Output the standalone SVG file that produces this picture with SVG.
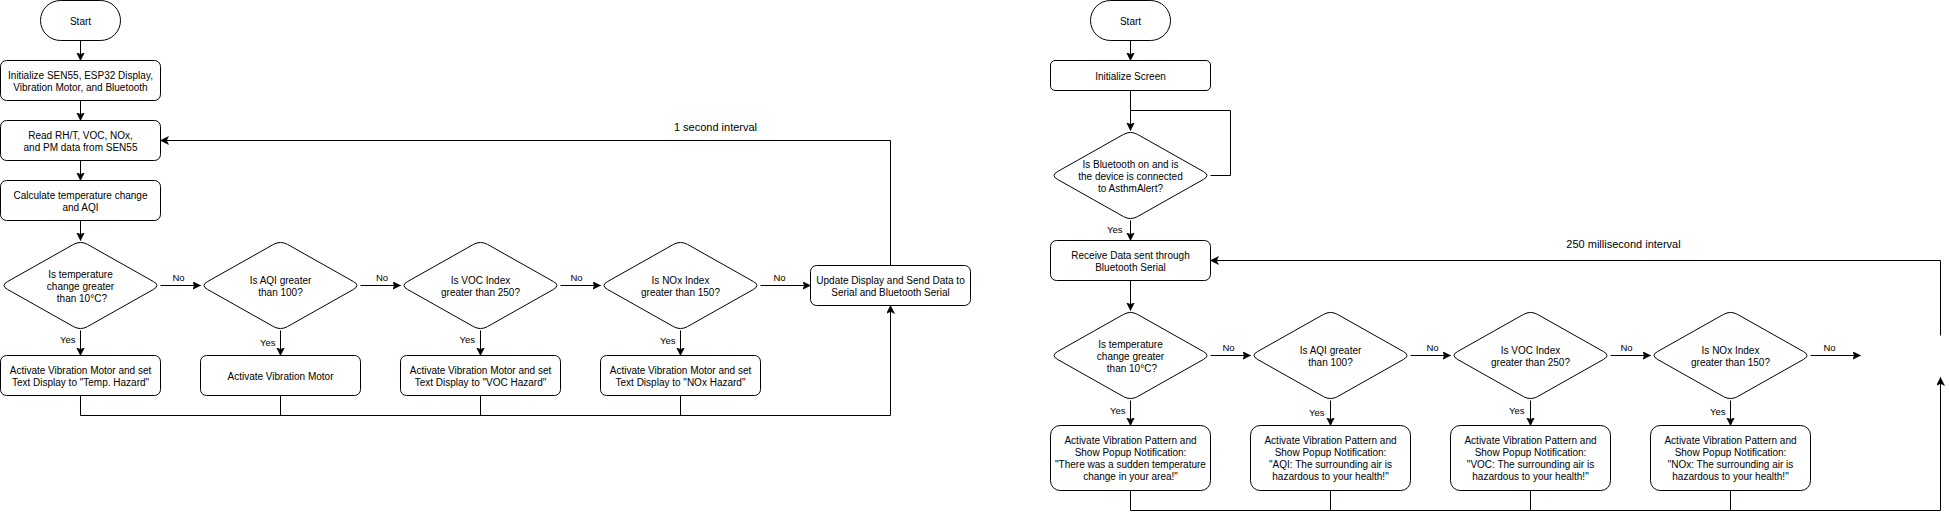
<svg xmlns="http://www.w3.org/2000/svg" xmlns:xlink="http://www.w3.org/1999/xlink" width="1949" height="519" viewBox="0 0 1949 519">
<style>
.shape{fill:#fff;stroke:#000;stroke-width:1}
.edge{fill:none;stroke:#000;stroke-width:1}
.t{font-family:"Liberation Sans",Arial,Helvetica,sans-serif;font-size:10px;fill:#000;text-anchor:middle}
.lbl{font-family:"Liberation Sans",Arial,Helvetica,sans-serif;font-size:9.5px;fill:#000}
.big{font-family:"Liberation Sans",Arial,Helvetica,sans-serif;font-size:11px;fill:#000;text-anchor:middle}
</style>
<defs>
<marker id="arr" markerUnits="userSpaceOnUse" markerWidth="10" markerHeight="10" refX="8" refY="4" orient="auto">
<path d="M0,0 L8,4 L0,8 L2,4 Z" fill="#000" stroke="#000" stroke-width="0.5"/>
</marker>
<path id="dia" d="M87,3.9 L153,41.1 Q160,45 153,48.9 L87,86.1 Q80,90 73,86.1 L7,48.9 Q0,45 7,41.1 L73,3.9 Q80,0 87,3.9 Z"/>
</defs>
<rect width="1949" height="519" fill="#fff"/>
<g transform="translate(0.5,0.5)">
<g id="connectors">
<path class="edge" d="M80,40 V60" marker-end="url(#arr)"/>
<path class="edge" d="M80,100 V120" marker-end="url(#arr)"/>
<path class="edge" d="M80,160 V180" marker-end="url(#arr)"/>
<path class="edge" d="M80,220 V240" marker-end="url(#arr)"/>
<path class="edge" d="M160,285 H200" marker-end="url(#arr)"/>
<path class="edge" d="M360,285 H400" marker-end="url(#arr)"/>
<path class="edge" d="M560,285 H600" marker-end="url(#arr)"/>
<path class="edge" d="M760,285 H810" marker-end="url(#arr)"/>
<path class="edge" d="M80,330 V355" marker-end="url(#arr)"/>
<path class="edge" d="M280,330 V355" marker-end="url(#arr)"/>
<path class="edge" d="M480,330 V355" marker-end="url(#arr)"/>
<path class="edge" d="M680,330 V355" marker-end="url(#arr)"/>
<path class="edge" d="M80,395 V415 H890 V305" marker-end="url(#arr)"/>
<path class="edge" d="M280,395 V415"/>
<path class="edge" d="M480,395 V415"/>
<path class="edge" d="M680,395 V415"/>
<path class="edge" d="M890,265 V140 H160" marker-end="url(#arr)"/>

<path class="edge" d="M1130,40 V60" marker-end="url(#arr)"/>
<path class="edge" d="M1130,90 V130" marker-end="url(#arr)"/>
<path class="edge" d="M1210,175 H1230 V110 H1130"/>
<path class="edge" d="M1130,220 V240" marker-end="url(#arr)"/>
<path class="edge" d="M1130,280 V310" marker-end="url(#arr)"/>
<path class="edge" d="M1210,355 H1250" marker-end="url(#arr)"/>
<path class="edge" d="M1410,355 H1450" marker-end="url(#arr)"/>
<path class="edge" d="M1610,355 H1650" marker-end="url(#arr)"/>
<path class="edge" d="M1810,355 H1860" marker-end="url(#arr)"/>
<path class="edge" d="M1130,400 V425" marker-end="url(#arr)"/>
<path class="edge" d="M1330,400 V425" marker-end="url(#arr)"/>
<path class="edge" d="M1530,400 V425" marker-end="url(#arr)"/>
<path class="edge" d="M1730,400 V425" marker-end="url(#arr)"/>
<path class="edge" d="M1130,490 V510 H1940 V377" marker-end="url(#arr)"/>
<path class="edge" d="M1330,490 V510"/>
<path class="edge" d="M1530,490 V510"/>
<path class="edge" d="M1730,490 V510"/>
<path class="edge" d="M1940,335 V260 H1210" marker-end="url(#arr)"/>

<text class="lbl" x="172" y="280.5">No</text>
<text class="lbl" x="375.5" y="280.5">No</text>
<text class="lbl" x="570" y="280.5">No</text>
<text class="lbl" x="773" y="280.5">No</text>
<text class="lbl" x="75" y="342.5" text-anchor="end">Yes</text>
<text class="lbl" x="275" y="345" text-anchor="end">Yes</text>
<text class="lbl" x="474.5" y="342.5" text-anchor="end">Yes</text>
<text class="lbl" x="675" y="343.5" text-anchor="end">Yes</text>
<text class="big" x="715" y="130">1 second interval</text>

<text class="lbl" x="1122" y="232.5" text-anchor="end">Yes</text>
<text class="lbl" x="1222" y="350.5">No</text>
<text class="lbl" x="1426" y="350.5">No</text>
<text class="lbl" x="1620" y="350.5">No</text>
<text class="lbl" x="1823" y="350.5">No</text>
<text class="lbl" x="1125" y="413.5" text-anchor="end">Yes</text>
<text class="lbl" x="1324" y="415.5" text-anchor="end">Yes</text>
<text class="lbl" x="1524" y="413.5" text-anchor="end">Yes</text>
<text class="lbl" x="1725" y="414" text-anchor="end">Yes</text>
<text class="big" x="1623" y="247">250 millisecond interval</text>
</g>

<g id="l-start"><rect class="shape" x="40" y="0" width="80" height="40" rx="20"/><text class="t" x="80" y="24">Start</text></g>
<g id="l-init"><rect class="shape" x="0" y="60" width="160" height="40" rx="6"/><text class="t" x="80" y="78">Initialize SEN55, ESP32 Display,<tspan x="80" dy="12">Vibration Motor, and Bluetooth</tspan></text></g>
<g id="l-read"><rect class="shape" x="0" y="120" width="160" height="40" rx="6"/><text class="t" x="80" y="138">Read RH/T, VOC, NOx,<tspan x="80" dy="12">and PM data from SEN55</tspan></text></g>
<g id="l-calc"><rect class="shape" x="0" y="180" width="160" height="40" rx="6"/><text class="t" x="80" y="198">Calculate temperature change<tspan x="80" dy="12">and AQI</tspan></text></g>
<g id="l-d1"><use href="#dia" xlink:href="#dia" class="shape" x="0" y="240"/><text class="t" x="80" y="277">Is temperature<tspan x="80" dy="12">change greater</tspan><tspan x="80" dy="12"> than 10°C?</tspan></text></g>
<g id="l-d2"><use href="#dia" xlink:href="#dia" class="shape" x="200" y="240"/><text class="t" x="280" y="283">Is AQI greater<tspan x="280" dy="12">than 100?</tspan></text></g>
<g id="l-d3"><use href="#dia" xlink:href="#dia" class="shape" x="400" y="240"/><text class="t" x="480" y="283">Is VOC Index<tspan x="480" dy="12">greater than 250?</tspan></text></g>
<g id="l-d4"><use href="#dia" xlink:href="#dia" class="shape" x="600" y="240"/><text class="t" x="680" y="283">Is NOx Index<tspan x="680" dy="12">greater than 150?</tspan></text></g>
<g id="l-update"><rect class="shape" x="810" y="265" width="160" height="40" rx="6"/><text class="t" x="890" y="283">Update Display and Send Data to<tspan x="890" dy="12">Serial and Bluetooth Serial</tspan></text></g>
<g id="l-a1"><rect class="shape" x="0" y="355" width="160" height="40" rx="6"/><text class="t" x="80" y="373">Activate Vibration Motor and set<tspan x="80" dy="12">Text Display to "Temp. Hazard"</tspan></text></g>
<g id="l-a2"><rect class="shape" x="200" y="355" width="160" height="40" rx="6"/><text class="t" x="280" y="379">Activate Vibration Motor</text></g>
<g id="l-a3"><rect class="shape" x="400" y="355" width="160" height="40" rx="6"/><text class="t" x="480" y="373">Activate Vibration Motor and set<tspan x="480" dy="12">Text Display to "VOC Hazard"</tspan></text></g>
<g id="l-a4"><rect class="shape" x="600" y="355" width="160" height="40" rx="6"/><text class="t" x="680" y="373">Activate Vibration Motor and set<tspan x="680" dy="12">Text Display to "NOx Hazard"</tspan></text></g>

<g id="r-start"><rect class="shape" x="1090" y="0" width="80" height="40" rx="20"/><text class="t" x="1130" y="24">Start</text></g>
<g id="r-init"><rect class="shape" x="1050" y="60" width="160" height="30" rx="4.5"/><text class="t" x="1130" y="79">Initialize Screen</text></g>
<g id="r-bt"><use href="#dia" xlink:href="#dia" class="shape" x="1050" y="130"/><text class="t" x="1130" y="167">Is Bluetooth on and is<tspan x="1130" dy="12">the device is connected</tspan><tspan x="1130" dy="12">to AsthmAlert?</tspan></text></g>
<g id="r-recv"><rect class="shape" x="1050" y="240" width="160" height="40" rx="6"/><text class="t" x="1130" y="258">Receive Data sent through<tspan x="1130" dy="12">Bluetooth Serial</tspan></text></g>
<g id="r-d1"><use href="#dia" xlink:href="#dia" class="shape" x="1050" y="310"/><text class="t" x="1130" y="347">Is temperature<tspan x="1130" dy="12">change greater</tspan><tspan x="1130" dy="12"> than 10°C?</tspan></text></g>
<g id="r-d2"><use href="#dia" xlink:href="#dia" class="shape" x="1250" y="310"/><text class="t" x="1330" y="353">Is AQI greater<tspan x="1330" dy="12">than 100?</tspan></text></g>
<g id="r-d3"><use href="#dia" xlink:href="#dia" class="shape" x="1450" y="310"/><text class="t" x="1530" y="353">Is VOC Index<tspan x="1530" dy="12">greater than 250?</tspan></text></g>
<g id="r-d4"><use href="#dia" xlink:href="#dia" class="shape" x="1650" y="310"/><text class="t" x="1730" y="353">Is NOx Index<tspan x="1730" dy="12">greater than 150?</tspan></text></g>
<g id="r-a1"><rect class="shape" x="1050" y="425" width="160" height="65" rx="9.75"/><text class="t" x="1130" y="443">Activate Vibration Pattern and<tspan x="1130" dy="12">Show Popup Notification:</tspan><tspan x="1130" dy="12">"There was a sudden temperature</tspan><tspan x="1130" dy="12">change in your area!"</tspan></text></g>
<g id="r-a2"><rect class="shape" x="1250" y="425" width="160" height="65" rx="9.75"/><text class="t" x="1330" y="443">Activate Vibration Pattern and<tspan x="1330" dy="12">Show Popup Notification:</tspan><tspan x="1330" dy="12">"AQI: The surrounding air is</tspan><tspan x="1330" dy="12">hazardous to your health!"</tspan></text></g>
<g id="r-a3"><rect class="shape" x="1450" y="425" width="160" height="65" rx="9.75"/><text class="t" x="1530" y="443">Activate Vibration Pattern and<tspan x="1530" dy="12">Show Popup Notification:</tspan><tspan x="1530" dy="12">"VOC: The surrounding air is</tspan><tspan x="1530" dy="12">hazardous to your health!"</tspan></text></g>
<g id="r-a4"><rect class="shape" x="1650" y="425" width="160" height="65" rx="9.75"/><text class="t" x="1730" y="443">Activate Vibration Pattern and<tspan x="1730" dy="12">Show Popup Notification:</tspan><tspan x="1730" dy="12">"NOx: The surrounding air is</tspan><tspan x="1730" dy="12">hazardous to your health!"</tspan></text></g>
</g>
</svg>
